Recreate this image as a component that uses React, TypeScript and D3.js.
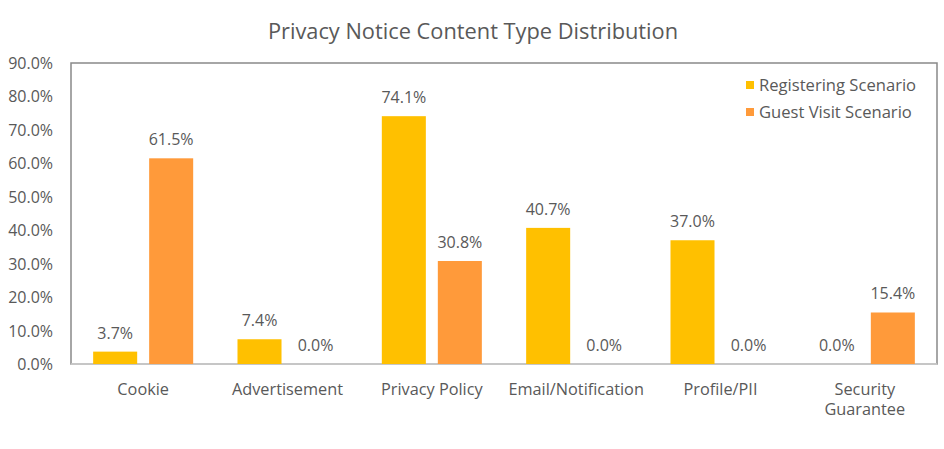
import React, { useEffect, useRef } from 'react';
import * as d3 from 'd3';

const categories = ['Cookie', 'Advertisement', 'Privacy Policy', 'Email/Notification', 'Profile/PII', 'Security Guarantee'];
const seriesNames = ['Registering Scenario', 'Guest Visit Scenario'];
const registering = [3.7, 7.4, 74.1, 40.7, 37.0, 0.0];
const guestVisit = [61.5, 0.0, 30.8, 0.0, 0.0, 15.4];
const yTicks = [0, 10, 20, 30, 40, 50, 60, 70, 80, 90];
const colors = ['#FFC000', '#FF9A3A'];

export default function App() {
  const svgRef = useRef<SVGSVGElement>(null);

  useEffect(() => {
    if (!svgRef.current) return;
    document.body.style.margin = '0';
    const root = d3.select(svgRef.current);
    root.selectAll('*').remove();

    const W = 944, H = 449;
    const margin = { top: 63, right: 7, bottom: 85, left: 71 };
    const width = W - margin.left - margin.right;
    const height = H - margin.top - margin.bottom;
    const font = '"Open Sans", "Noto Sans", sans-serif';
    const textColor = '#595959';

    root.attr('width', W).attr('height', H).style('font-family', font).style('display', 'block');

    root.append('rect').attr('width', W).attr('height', H).attr('fill', '#fff');

    root.append('text')
      .attr('x', W / 2 + 1).attr('y', 39)
      .attr('text-anchor', 'middle')
      .attr('fill', textColor)
      .style('font-size', '21.8px')
      .text('Privacy Notice Content Type Distribution');

    const g = root.append('g').attr('transform', `translate(${margin.left},${margin.top})`);

    const x = d3.scaleBand().domain(categories).range([0, width]).paddingInner(0).paddingOuter(0);
    const y = d3.scaleLinear().domain([0, 90]).range([height, 0]);

    // plot border
    g.append('rect')
      .attr('x', 0).attr('y', 0).attr('width', width).attr('height', height)
      .attr('fill', 'none').attr('stroke', '#898989').attr('stroke-width', 1.5);
    // zero axis
    g.append('line')
      .attr('x1', 0).attr('x2', width).attr('y1', y(0)).attr('y2', y(0))
      .attr('stroke', '#d0d0d0').attr('stroke-width', 1.5);

    // y tick labels
    g.selectAll('.ytick').data(yTicks).enter().append('text')
      .attr('x', -18).attr('y', (d) => y(d) + 6)
      .attr('text-anchor', 'end')
      .attr('fill', textColor)
      .style('font-size', '16px')
      .text((d) => d.toFixed(1) + '%');

    const bw = x.bandwidth();
    const barW = bw * 0.305;
    const gap = bw * 0.083;
    const groupOffset = (bw - (2 * barW + gap)) / 2;
    const seriesData = [registering, guestVisit];

    seriesData.forEach((vals, si) => {
      const sg = g.append('g');
      const xs = (i: number) => (x(categories[i]) as number) + groupOffset + si * (barW + gap);
      sg.selectAll('rect').data(vals).enter().append('rect')
        .attr('x', (_, i) => xs(i))
        .attr('y', (d) => y(d))
        .attr('width', barW)
        .attr('height', (d) => y(0) - y(d))
        .attr('fill', colors[si]);
      sg.selectAll('text').data(vals).enter().append('text')
        .attr('x', (_, i) => xs(i) + barW / 2)
        .attr('y', (d) => y(d) - 13)
        .attr('text-anchor', 'middle')
        .attr('fill', textColor)
        .style('font-size', '16px')
        .text((d) => d.toFixed(1) + '%');
    });

    // category labels
    categories.forEach((c) => {
      const cx = (x(c) as number) + bw / 2;
      const lines = c === 'Security Guarantee' ? ['Security', 'Guarantee'] : [c];
      lines.forEach((ln, li) => {
        g.append('text')
          .attr('x', cx).attr('y', height + 31 + li * 20)
          .attr('text-anchor', 'middle')
          .attr('fill', textColor)
          .style('font-size', '16.3px')
          .text(ln);
      });
    });

    // legend
    const lg = root.append('g').attr('transform', 'translate(746,82)');
    seriesNames.forEach((s, i) => {
      lg.append('rect').attr('x', 0).attr('y', i * 27 - 1).attr('width', 8).attr('height', 8).attr('fill', colors[i]);
      lg.append('text').attr('x', 13).attr('y', i * 27 + 9)
        .attr('fill', textColor)
        .style('font-size', '16.6px')
        .text(s);
    });
  }, []);

  return (
    <div>
      <svg ref={svgRef} />
    </div>
  );
}
